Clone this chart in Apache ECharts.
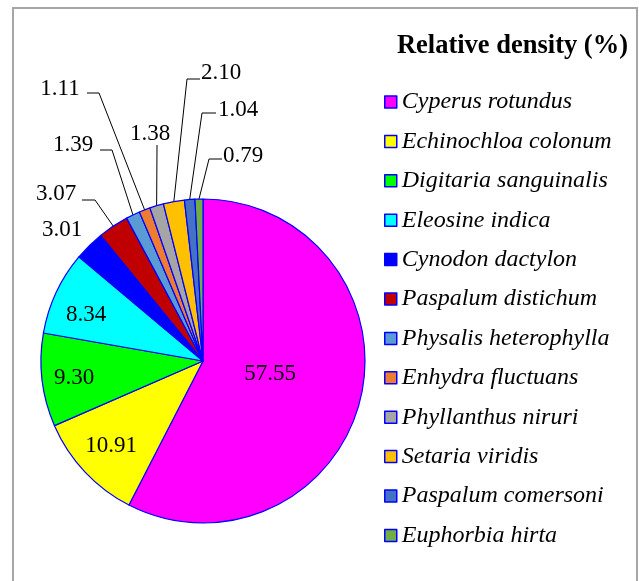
<!DOCTYPE html>
<html>
<head>
<meta charset="utf-8">
<script src="https://cdn.jsdelivr.net/npm/echarts@6/dist/echarts.min.js"></script>
<style>
  html, body { margin: 0; padding: 0; background: #fff; }
  #chart { width: 639px; height: 581px; }
</style>
</head>
<body>
<div id="chart"></div>
<script>
// species, in drawing order (clockwise from 12 o'clock)
var species = [
  'Cyperus rotundus', 'Echinochloa colonum', 'Digitaria sanguinalis', 'Eleosine indica',
  'Cynodon dactylon', 'Paspalum distichum', 'Physalis heterophylla', 'Enhydra fluctuans',
  'Phyllanthus niruri', 'Setaria viridis', 'Paspalum comersoni', 'Euphorbia hirta'
]
// relative density (%)
var density = [57.55, 10.91, 9.30, 8.34, 3.01, 3.07, 1.39, 1.11, 1.38, 2.10, 1.04, 0.79]

var colors = [
  '#ff00ff', '#ffff00', '#00ff00', '#00ffff', '#0000ff', '#c00000',
  '#5b9bd5', '#ed7d31', '#a5a5a5', '#ffc000', '#4472c4', '#70ad47'
]

// where Excel put each data label: [x, y] of text centre,
// then optional leader bend + end points (start comes from the slice edge)
var labelSpots = [
  { at: [270, 374] },
  { at: [111, 446] },
  { at: [74, 378] },
  { at: [86, 315] },
  { at: [62, 230] },
  { at: [56, 194], line: [[95, 200], [82, 200]] },
  { at: [73, 145], line: [[112, 150], [100, 150]] },
  { at: [60, 89], line: [[99, 93], [87, 93]] },
  { at: [150, 134], line: [[157, 146], [157, 145]] },
  { at: [221, 73], line: [[187, 79], [200, 79]] },
  { at: [238, 110], line: [[202, 113], [216, 113]] },
  { at: [243, 156], line: [[209, 159], [222, 159]] }
]
var insideCount = 4

var serif = '"Liberation Serif", "Times New Roman", serif'

var chart = echarts.init(document.getElementById('chart'))

var pieData = species.map(function(name, i) {
  var item = { name: name, value: density[i], itemStyle: { color: colors[i] } }
  if (i < insideCount) {
    item.label = { position: 'inside' }
  }
  if (!labelSpots[i].line) {
    item.labelLine = { show: false }
  }
  return item
})

chart.setOption({
  animation: false,
  graphic: [{
    type: 'rect',
    shape: { x: 13, y: 8, width: 624, height: 620 },
    style: { fill: null, stroke: '#a6a6a6', lineWidth: 2 },
    silent: true
  }],
  title: {
    text: 'Relative density (%)',
    right: 11,
    top: 33,
    padding: 0,
    textStyle: { fontFamily: serif, fontWeight: 'bold', fontSize: 26.5, color: '#000' }
  },
  legend: {
    orient: 'vertical',
    left: 384,
    top: 89,
    padding: 0,
    itemWidth: 12,
    itemHeight: 12,
    itemGap: 13.4,
    icon: 'rect',
    selectedMode: false,
    itemStyle: { borderColor: '#0000ff', borderWidth: 1.5 },
    textStyle: { fontFamily: serif, fontStyle: 'italic', fontSize: 24, lineHeight: 26, color: '#000' },
    data: species
  },
  series: [{
    type: 'pie',
    center: [203, 361],
    radius: 162,
    startAngle: 90,
    clockwise: true,
    avoidLabelOverlap: false,
    emphasis: { disabled: true },
    itemStyle: { borderColor: '#0000ff', borderWidth: 1.2 },
    label: {
      show: true,
      position: 'outside',
      color: '#000',
      fontFamily: serif,
      fontSize: 23,
      formatter: function(p) { return p.value.toFixed(2) }
    },
    labelLine: {
      show: true,
      length: 10,
      length2: 10,
      lineStyle: { color: '#000', width: 1 }
    },
    labelLayout: function(params) {
      var spot = labelSpots[params.dataIndex]
      var out = { x: spot.at[0], y: spot.at[1], align: 'center', verticalAlign: 'middle' }
      if (spot.line && params.labelLinePoints) {
        out.labelLinePoints = [params.labelLinePoints[0], spot.line[0], spot.line[1]]
      }
      return out
    },
    data: pieData
  }]
})
</script>
</body>
</html>
